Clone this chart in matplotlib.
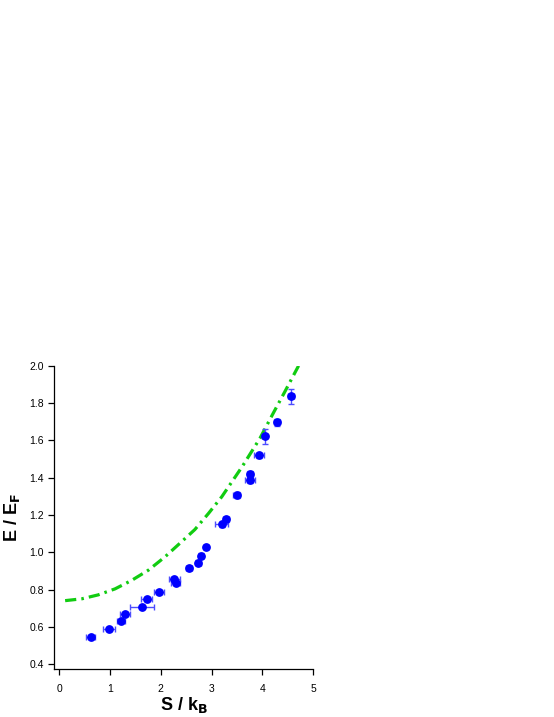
"""E / E_F versus S / k_B: measured points with error bars and a dash-dot model curve."""

import matplotlib
matplotlib.use("Agg")
import matplotlib.pyplot as plt

plt.rcParams["font.family"] = ["Liberation Sans", "DejaVu Sans"]

# measured points
S_DATA = [0.62, 0.99, 1.21, 1.29, 1.63, 1.72, 1.97, 2.27, 2.29, 2.55, 2.74,
          2.79, 2.89, 3.20, 3.29, 3.49, 3.75, 3.76, 3.93, 4.04, 4.28, 4.56]
E_DATA = [0.548, 0.589, 0.634, 0.668, 0.707, 0.752, 0.787, 0.855, 0.836, 0.916, 0.945,
          0.982, 1.027, 1.150, 1.177, 1.307, 1.388, 1.421, 1.520, 1.622, 1.697, 1.836]
S_ERR = [0.08, 0.12, 0.08, 0.10, 0.23, 0.11, 0.10, 0.11, 0.09, 0.06, 0.05,
         0.04, 0.04, 0.13, 0.06, 0.06, 0.10, 0.06, 0.10, 0.05, 0.06, 0.05]
E_ERR = [0.010, 0.008, 0.010, 0.010, 0.008, 0.010, 0.010, 0.012, 0.012, 0.012, 0.012,
         0.012, 0.010, 0.012, 0.015, 0.015, 0.015, 0.015, 0.012, 0.041, 0.018, 0.040]

# model curve
S_CURVE = [0.12, 0.45, 0.77, 1.10, 1.43, 1.76, 2.08, 2.41, 2.67, 2.94, 3.20,
           3.60, 3.95, 4.21, 4.44, 4.71]
E_CURVE = [0.741, 0.751, 0.772, 0.804, 0.850, 0.905, 0.975, 1.057, 1.122, 1.209, 1.298,
           1.459, 1.611, 1.745, 1.861, 2.000]

X_TICKS = [0, 1, 2, 3, 4, 5]
Y_TICKS = [0.4, 0.6, 0.8, 1.0, 1.2, 1.4, 1.6, 1.8, 2.0]

fig = plt.figure(figsize=(5.54, 7.17), dpi=100)
ax = fig.add_axes([0.097, 0.0665, 0.4686, 0.4234])

ax.plot(S_CURVE, E_CURVE, color="#11cc11", lw=2.3,
        linestyle=(0, (3.5, 1.6, 0.8, 1.6)), zorder=2)

ax.errorbar(S_DATA, E_DATA, xerr=S_ERR, yerr=E_ERR, fmt="o", color="#0000ff",
            ms=5.3, mec="#0000ff", ecolor="#4d4dff", elinewidth=1.0,
            capsize=2.2, capthick=1.0, zorder=3)

ax.set_xlim(-0.104, 5.0)
ax.set_ylim(0.373, 2.0)
ax.set_xticks(X_TICKS)
ax.set_yticks(Y_TICKS)
ax.set_xticklabels([str(t) for t in X_TICKS])
ax.set_yticklabels([f"{t:.1f}" for t in Y_TICKS])

for side in ("top", "right"):
    ax.spines[side].set_visible(False)
for side in ("left", "bottom"):
    ax.spines[side].set_linewidth(0.9)

ax.tick_params(axis="both", direction="out", length=4.5, width=0.9,
               labelsize=7.5, colors="black")
ax.tick_params(axis="x", pad=6)
ax.tick_params(axis="y", pad=2.5)

ax.set_xlabel(r"S / k$_\mathbf{B}$", fontsize=13, fontweight="bold", labelpad=1)
ax.set_ylabel(r"E / E$_\mathbf{F}$", fontsize=13, fontweight="bold", labelpad=5)

fig.savefig("out.png", dpi=100)
